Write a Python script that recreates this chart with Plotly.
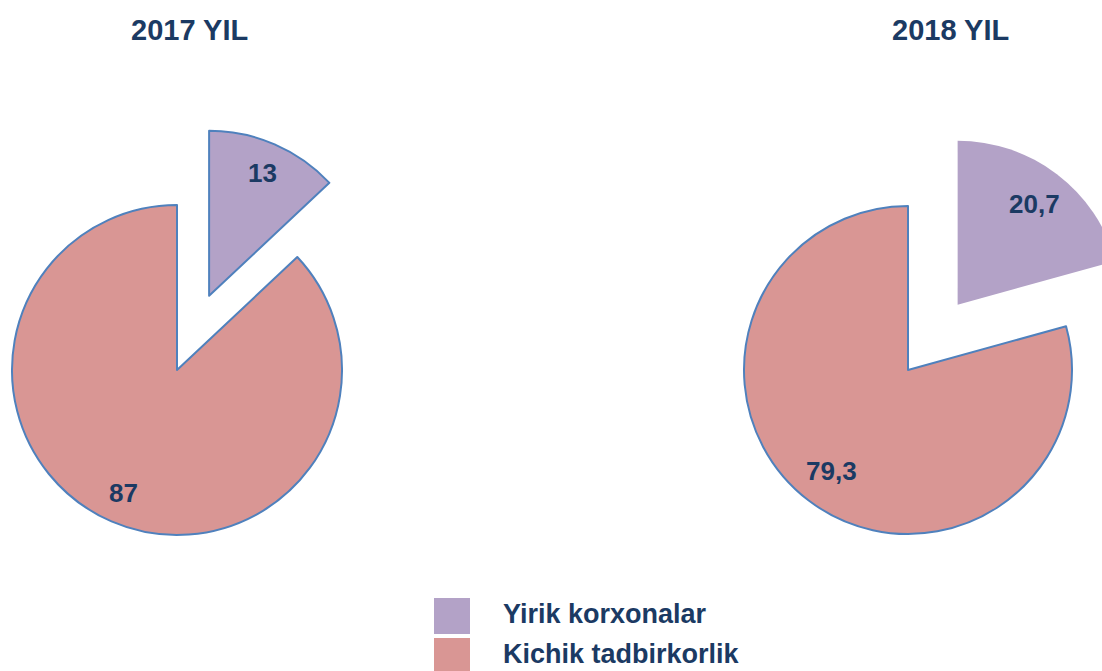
import math
import plotly.graph_objects as go

# ---- data ----
categories = ["Yirik korxonalar", "Kichik tadbirkorlik"]
years = ["2017 YIL", "2018 YIL"]
values_2017 = [13, 87]
values_2018 = [20.7, 79.3]

# ---- style ----
colors = ["#B3A2C7", "#D99694"]
edge = "#4F81BD"
text_col = "#1B3A63"
FONT = "Liberation Sans"

W, H = 1130, 671   # figure wider than the window so the clipped slice can overflow


def dom(cx, cy, r):
    return dict(x=[(cx - r) / W, (cx + r) / W], y=[1 - (cy + r) / H, 1 - (cy - r) / H])


def fmt(v):
    s = ("%.1f" % v).rstrip("0").rstrip(".")
    return s.replace(".", ",")


fig = go.Figure()

pies = [
    dict(vals=values_2017, cx=177, cy=370, r=165, pull=0.49, outline_pulled=True, tx=189, lab=0.81),
    dict(vals=values_2018, cx=908, cy=370, r=164, pull=0.50, outline_pulled=False, tx=950, lab=0.77),
]

for p in pies:
    vals = p["vals"]
    total = sum(vals)
    # base pie: only the large slice visible
    fig.add_trace(go.Pie(
        values=vals, labels=categories, sort=False, direction="clockwise", rotation=0,
        domain=dom(p["cx"], p["cy"], p["r"]),
        marker=dict(colors=["rgba(0,0,0,0)", colors[1]],
                    line=dict(color=["rgba(0,0,0,0)", edge], width=2)),
        textinfo="none",
        showlegend=False, hoverinfo="label+value",
    ))
    # exploded slice: same pie, centre shifted along the slice's mid-angle
    mid0 = math.radians(vals[0] / total * 360 / 2)
    d = p["pull"] * p["r"]
    ox, oy = p["cx"] + d * math.sin(mid0), p["cy"] - d * math.cos(mid0)
    fig.add_trace(go.Pie(
        values=vals, labels=categories, sort=False, direction="clockwise", rotation=0,
        domain=dom(ox, oy, p["r"]),
        marker=dict(colors=[colors[0], "rgba(0,0,0,0)"],
                    line=dict(color=[edge if p["outline_pulled"] else "rgba(0,0,0,0)",
                                     "rgba(0,0,0,0)"], width=2)),
        textinfo="none",
        showlegend=False, hoverinfo="label+value",
    ))
    # data labels along each slice's mid-angle
    centres = [(ox, oy), (p["cx"], p["cy"])]
    start = 0.0
    for v, (ccx, ccy) in zip(vals, centres):
        ang = math.radians((start + v / 2) / total * 360)
        start += v
        lx = ccx + p["lab"] * p["r"] * math.sin(ang)
        ly = ccy - p["lab"] * p["r"] * math.cos(ang)
        fig.add_annotation(x=lx / W, y=1 - ly / H, xref="paper", yref="paper",
                           text=fmt(v), showarrow=False, xanchor="center", yanchor="middle",
                           font=dict(family=FONT, size=26, color=text_col, weight="bold"))

# ---- custom legend (large swatches) ----
idx = list(range(len(categories)))
fig.add_trace(go.Scatter(
    x=[452] * len(categories), y=idx, mode="markers",
    marker=dict(symbol="square", size=36, color=colors, line=dict(width=0)),
    showlegend=False, hoverinfo="skip", cliponaxis=False,
))
fig.add_trace(go.Scatter(
    x=[503] * len(categories), y=idx, mode="text", text=categories,
    textposition="middle right",
    textfont=dict(family=FONT, size=27, color=text_col, weight="bold"),
    showlegend=False, hoverinfo="skip", cliponaxis=False,
))

for p, yr in zip(pies, years):
    fig.add_annotation(x=p["tx"] / W, y=1 - 30 / H, xref="paper", yref="paper",
                       text=yr, showarrow=False, xanchor="center", yanchor="middle",
                       font=dict(family=FONT, size=29, color=text_col, weight="bold"))

fig.update_layout(
    width=W, height=H, margin=dict(l=0, r=0, t=0, b=0),
    paper_bgcolor="white", plot_bgcolor="rgba(0,0,0,0)",
    font=dict(family=FONT),
    xaxis=dict(domain=[0, 1], range=[0, W], visible=False, fixedrange=True),
    yaxis=dict(domain=[0, 75 / H], range=[1.375, -0.5], visible=False, fixedrange=True),
    showlegend=False,
)

fig.write_html(
    "out.html",
    config={"displayModeBar": False},
    post_script="document.body.style.margin='0';document.body.style.overflow='hidden';"
                "document.documentElement.style.overflow='hidden';",
)
